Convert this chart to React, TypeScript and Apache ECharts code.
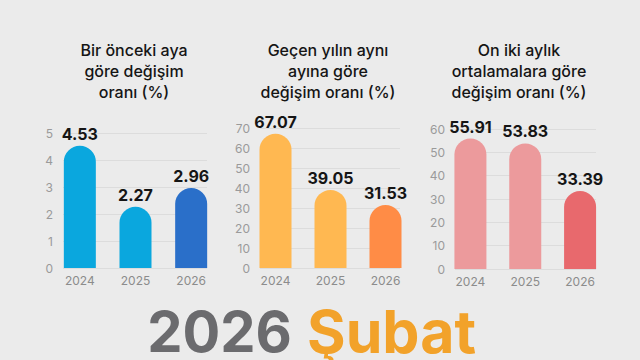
import React, { useEffect, useRef } from "react";
import * as echarts from "echarts";

const years = ["2024", "2025", "2026"];

const monthlyValues = [4.53, 2.27, 2.96];
const yearlyValues = [67.07, 39.05, 31.53];
const avgValues = [55.91, 53.83, 33.39];

const monthlyColors = ["#0aa7de", "#0aa7de", "#2a6fc9"];
const yearlyColors = ["#ffb851", "#ffb851", "#ff8c46"];
const avgColors = ["#ec9a9c", "#ec9a9c", "#e8696d"];

const monthlyTitle = "Bir önceki aya\ngöre değişim\noranı (%)";
const yearlyTitle = "Geçen yılın aynı\nayına göre\ndeğişim oranı (%)";
const avgTitle = "On iki aylık\nortalamalara göre\ndeğişim oranı (%)";

const bottomYear = "2026";
const bottomMonth = "Şubat";

const FONT = "Inter, 'Noto Sans', sans-serif";

type Panel = {
  values: number[];
  colors: string[];
  title: string;
  titleX: number;
  max: number;
  interval: number;
  barLeft: number;
  barWidth: number;
  axisLeft: number;
  axisWidth: number;
  top: number;
  height: number;
};

const panels: Panel[] = [
  { values: monthlyValues, colors: monthlyColors, title: monthlyTitle, titleX: 134, max: 5, interval: 1, barLeft: 52, barWidth: 167, axisLeft: 63, axisWidth: 144, top: 133, height: 135 },
  { values: yearlyValues, colors: yearlyColors, title: yearlyTitle, titleX: 328, max: 70, interval: 10, barLeft: 248, barWidth: 165, axisLeft: 260, axisWidth: 140, top: 128, height: 140 },
  { values: avgValues, colors: avgColors, title: avgTitle, titleX: 519, max: 60, interval: 10, barLeft: 443, barWidth: 164.5, axisLeft: 455, axisWidth: 141, top: 129, height: 140 },
];

export default function App() {
  const ref = useRef<HTMLDivElement>(null);
  useEffect(() => {
    if (!ref.current) return;
    const chart = echarts.init(ref.current, undefined, { renderer: "svg" });
    const grid: any[] = [];
    const xAxis: any[] = [];
    const yAxis: any[] = [];
    const series: any[] = [];
    const graphic: any[] = [];
    panels.forEach((p, i) => {
      grid.push({ left: p.axisLeft, top: p.top, width: p.axisWidth, height: p.height, containLabel: false });
      grid.push({ left: p.barLeft, top: p.top, width: p.barWidth, height: p.height, containLabel: false });
      const ag = i * 2;
      const bg = i * 2 + 1;
      xAxis.push({ type: "category", gridIndex: ag, data: years, show: false });
      xAxis.push({
        type: "category",
        gridIndex: bg,
        data: years,
        axisLine: { show: false },
        axisTick: { show: false },
        axisLabel: { color: "#8c8c8c", fontSize: 12, margin: 6, fontFamily: FONT },
      });
      yAxis.push({
        type: "value",
        gridIndex: ag,
        min: 0,
        max: p.max,
        interval: p.interval,
        axisLine: { show: false },
        axisTick: { show: false },
        axisLabel: { color: "#9a9a9a", fontSize: 12, margin: 10, fontFamily: FONT },
        splitLine: { lineStyle: { color: "#dcdcdc", width: 1 } },
      });
      yAxis.push({
        type: "value",
        gridIndex: bg,
        min: 0,
        max: p.max,
        interval: p.interval,
        show: false,
        splitLine: { show: false },
      });
      series.push({
        type: "bar",
        xAxisIndex: bg,
        yAxisIndex: bg,
        barWidth: 32,
        data: p.values.map((v, k) => ({
          value: v,
          itemStyle: { color: p.colors[k], borderRadius: [16, 16, 0, 0] },
        })),
        label: {
          show: true,
          position: "top",
          distance: 4,
          color: "#151515",
          fontSize: 16,
          fontWeight: "bold",
          fontFamily: FONT,
          formatter: (d: any) => d.value.toFixed(2),
        },
        z: 3,
      });
      graphic.push({
        type: "text",
        x: p.titleX,
        y: 39,
        style: {
          text: p.title,
          textAlign: "center",
          textVerticalAlign: "top",
          fill: "#151515",
          font: `500 16px ${FONT}`,
          lineHeight: 21,
        },
      });
    });
    graphic.push({
      type: "text",
      x: 292,
      y: 332,
      style: {
        text: bottomYear,
        fill: "#6b6b6e",
        font: `bold 56px ${FONT}`,
        textAlign: "right",
        textVerticalAlign: "middle",
      },
    });
    graphic.push({
      type: "text",
      x: 307,
      y: 331,
      style: {
        text: bottomMonth,
        fill: "#f2a22a",
        font: `bold 59px ${FONT}`,
        textAlign: "left",
        textVerticalAlign: "middle",
      },
    });
    chart.setOption({
      animation: false,
      backgroundColor: "#ebebeb",
      grid,
      xAxis,
      yAxis,
      series,
      graphic,
    });
    return () => chart.dispose();
  }, []);
  return <div ref={ref} style={{ position: "fixed", left: 0, top: 0, width: 640, height: 360 }} />;
}
